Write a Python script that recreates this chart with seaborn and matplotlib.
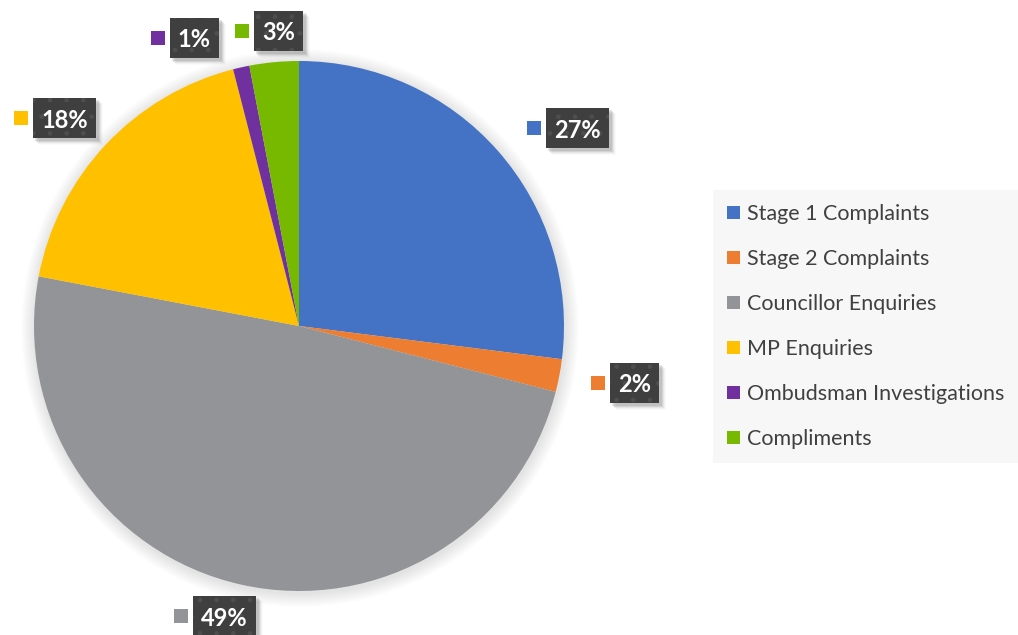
import matplotlib
matplotlib.use("Agg")
import numpy as np
import matplotlib.pyplot as plt
import seaborn as sns
from matplotlib.patches import Rectangle, Circle

# Share of contacts by type (%)
categories = [
    "Stage 1 Complaints",
    "Stage 2 Complaints",
    "Councillor Enquiries",
    "MP Enquiries",
    "Ombudsman Investigations",
    "Compliments",
]
shares = [27, 2, 49, 18, 1, 3]
colors = ["#4472C4", "#ED7D31", "#929497", "#FFC000", "#7030A0", "#76B900"]

# Label placement: (angle nudge in degrees, distance from centre as a multiple of the radius)
label_nudge = [(-5.1, 1.26), (0.9, 1.25), (-3.6, 1.14), (2.8, 1.21), (9.0, 1.17), (0.4, 1.12)]

sns.set_theme(style="white")
plt.rcParams["font.family"] = ["Lato", "DejaVu Sans"]
plt.rcParams["hatch.linewidth"] = 1.0

W, H = 1018, 635
fig = plt.figure(figsize=(W / 100, H / 100), dpi=100)
fig.patch.set_facecolor("white")
ax = fig.add_axes([0, 0, 1, 1])

CX, CY, R = 299, H - 326, 265

# soft outer shadow behind the pie
for k in range(1, 15):
    ax.add_patch(Circle((CX + 1, CY - 2), R + k, facecolor="black",
                        edgecolor="none", alpha=0.009, zorder=1))

wedges, _ = ax.pie(
    shares, colors=colors, startangle=90, counterclock=False,
    center=(CX, CY), radius=R,
    wedgeprops=dict(linewidth=0, zorder=2),
)

ax.set_xlim(0, W)
ax.set_ylim(0, H)
ax.set_aspect("equal")
ax.axis("off")

# percentage labels: dark patterned box with a colour key on its left
FS = 17
texts = []
for w, val, (dang, dist) in zip(wedges, shares, label_nudge):
    mid = np.deg2rad((w.theta1 + w.theta2) / 2 + dang)
    lx = CX + dist * R * np.cos(mid)
    ly = CY + dist * R * np.sin(mid)
    t = ax.text(lx + 9.5, ly, f"{val}%", ha="center", va="center_baseline",
                color="white", fontsize=FS, fontweight="bold", zorder=8)
    texts.append((t, w.get_facecolor(), ly))

fig.canvas.draw()
renderer = fig.canvas.get_renderer()
BOX_H = 40
PADX = 8
for t, col, ly in texts:
    bb = t.get_window_extent(renderer)
    x0 = bb.x0 - PADX
    bw = bb.width + 2 * PADX
    y0 = ly - BOX_H / 2
    # drop shadow
    for i, a in enumerate([0.09, 0.07, 0.05, 0.03, 0.02]):
        ax.add_patch(Rectangle((x0 + 2 + i, y0 - 3 - i), bw + 1, BOX_H + 1,
                               facecolor="black", edgecolor="none",
                               alpha=a, zorder=5))
    ax.add_patch(Rectangle((x0, y0), bw, BOX_H, facecolor="#3F3F3F",
                           edgecolor="none", zorder=6))
    ax.add_patch(Rectangle((x0, y0), bw, BOX_H, facecolor="none",
                           edgecolor="#4E4E4E", hatch=".", linewidth=0,
                           zorder=7))
    ax.add_patch(Rectangle((x0 - 5 - 14, ly - 7), 14, 14, facecolor=col,
                           edgecolor="none", zorder=7))

leg = ax.legend(
    wedges, categories,
    loc="upper left", bbox_to_anchor=(713 / W, 1 - 190 / H),
    bbox_transform=fig.transFigure,
    frameon=True, fancybox=False, facecolor="#F7F7F7", edgecolor="none",
    framealpha=1, fontsize=15.5, labelcolor="#404040",
    handlelength=0.6, handleheight=0.6, handletextpad=0.33,
    labelspacing=1.16, borderpad=0.66, borderaxespad=0,
)

fig.savefig("out.png", dpi=100, facecolor="white")
